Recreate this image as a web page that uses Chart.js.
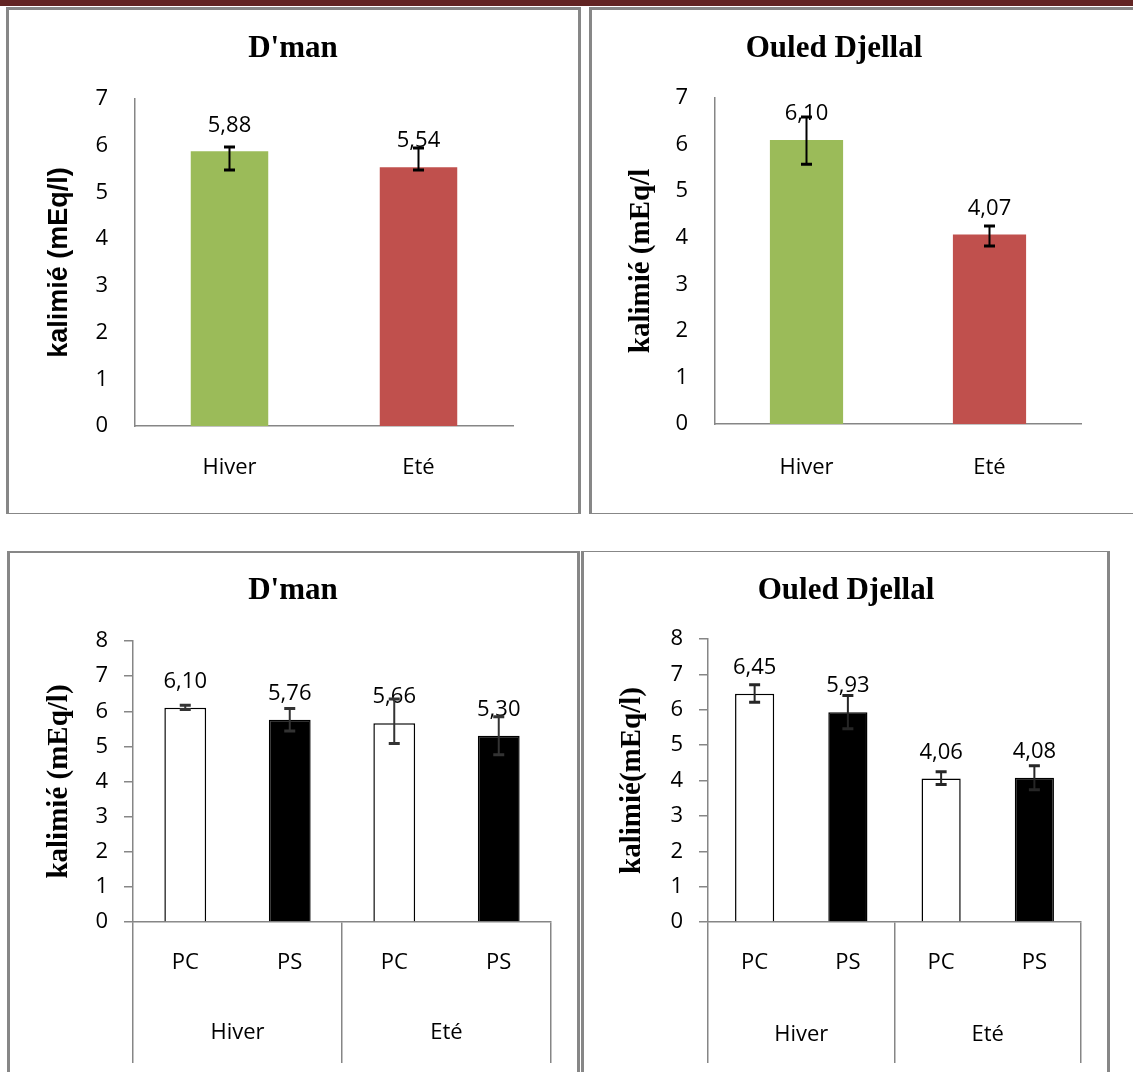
<!DOCTYPE html>
<html>
<head>
<meta charset="utf-8">
<title>Kalimié</title>
<script src="https://cdn.jsdelivr.net/npm/chart.js@4.4.1/dist/chart.umd.min.js"></script>
<style>
  body { margin: 0; width: 1133px; height: 1072px; overflow: hidden; background: #fff; position: relative; }
  .topline { position: absolute; left: 0; top: 0; width: 1133px; height: 6px; background: #622423; }
  .panel { position: absolute; box-sizing: border-box; border: 3px solid #878787; }
  canvas { position: absolute; }
</style>
</head>
<body>
<div class="topline"></div>
<div class="panel" style="left:6px;top:7px;width:575px;height:507px;border-bottom-width:1px"></div>
<div class="panel" style="left:589px;top:7px;width:600px;height:507px;border-bottom-width:1px"></div>
<div class="panel" style="left:7px;top:551px;width:573px;height:600px;border-top-width:2px"></div>
<div class="panel" style="left:581px;top:551px;width:529px;height:600px;border-top-width:1px"></div>

<canvas id="c1" width="566" height="500" style="left:10px;top:10px"></canvas>
<canvas id="c2" width="496" height="500" style="left:586px;top:10px"></canvas>
<canvas id="c3" width="566" height="509" style="left:10px;top:554px"></canvas>
<canvas id="c4" width="522" height="509" style="left:585px;top:554px"></canvas>

<script>
// categories
const seasons = ['Hiver', 'Eté'];
const groupLabels = ['PC', 'PS', 'PC', 'PS'];

// D'man, by season
const dmanSeason = [5.88, 5.54];
const dmanSeasonErrUp = [0.09, 0.41];
const dmanSeasonErrDown = [0.40, 0.06];

// Ouled Djellal, by season
const ouledSeason = [6.10, 4.07];
const ouledSeasonErrUp = [0.49, 0.18];
const ouledSeasonErrDown = [0.52, 0.25];

// D'man, PC / PS per season
const dmanGroup = [6.10, 5.76, 5.66, 5.30];
const dmanGroupErrUp = [0.07, 0.32, 0.69, 0.54];
const dmanGroupErrDown = [0.05, 0.32, 0.58, 0.54];

// Ouled Djellal, PC / PS per season
const ouledGroup = [6.45, 5.93, 4.06, 4.08];
const ouledGroupErrUp = [0.26, 0.47, 0.19, 0.34];
const ouledGroupErrDown = [0.24, 0.47, 0.17, 0.34];

const TICK_FONT = { family: '"Open Sans", sans-serif', size: 22, lineHeight: 1.2 };
const TITLE_FONT = { family: '"Liberation Serif", serif', size: 31, weight: 'bold', lineHeight: 1 };
const AXIS_GREY = '#868686';

// value labels + error bars on top of the bars
const barExtras = {
  id: 'barExtras',
  afterDatasetsDraw(chart, args, opts) {
    const ctx = chart.ctx;
    const yScale = chart.scales.y;
    const values = chart.data.datasets[0].data;
    const bars = chart.getDatasetMeta(0).data;
    ctx.save();
    ctx.font = '22px "Open Sans"';
    ctx.fillStyle = '#000';
    ctx.textAlign = 'center';
    ctx.textBaseline = 'middle';
    bars.forEach((bar, i) => {
      ctx.fillText(values[i].toFixed(2).replace('.', ','), bar.x, bar.y - 26);
    });
    ctx.strokeStyle = opts.color;
    bars.forEach((bar, i) => {
      const v = values[i];
      const yHi = yScale.getPixelForValue(v + opts.up[i]);
      const yLo = yScale.getPixelForValue(v - opts.down[i]);
      ctx.lineWidth = 2;
      ctx.beginPath();
      ctx.moveTo(bar.x, yHi);
      ctx.lineTo(bar.x, yLo);
      ctx.stroke();
      ctx.lineWidth = 3;
      ctx.beginPath();
      ctx.moveTo(bar.x - 5.5, yHi); ctx.lineTo(bar.x + 5.5, yHi);
      ctx.moveTo(bar.x - 5.5, yLo); ctx.lineTo(bar.x + 5.5, yLo);
      ctx.stroke();
    });
    ctx.restore();
  }
};

function buildChart(id, g, d) {
  const yW = g.areaL - g.left;
  const rW = g.left + g.width - g.areaR;
  const lh = TICK_FONT.size * TICK_FONT.lineHeight;
  const twoLevel = !!d.groups;
  const xH = twoLevel ? 75 : g.top + g.height - g.areaB;
  const x2H = g.top + g.height - g.areaB - xH;

  const scales = {
    y: {
      position: 'left',
      min: 0,
      max: d.yMax,
      ticks: { stepSize: 1, color: '#000', font: TICK_FONT, padding: twoLevel ? 16 : 27 },
      grid: twoLevel
        ? { display: true, drawOnChartArea: false, drawTicks: true, tickLength: 9, color: AXIS_GREY, lineWidth: 1.5 }
        : { display: false, drawTicks: false },
      border: { display: true, color: AXIS_GREY, width: 1.5 },
      title: {
        display: true,
        text: d.yTitle,
        color: '#000',
        font: d.yTitleFont,
        padding: { top: g.yTitleX - g.left - d.yTitleFont.size / 2, bottom: 0 }
      },
      afterFit(s) { s.width = yW; }
    },
    yr: {
      type: 'linear',
      position: 'right',
      display: true,
      ticks: { display: false },
      grid: { display: false, drawTicks: false },
      border: { display: false },
      afterFit(s) { s.width = rW; }
    },
    x: {
      weight: 0,
      offset: true,
      ticks: {
        color: '#000',
        font: TICK_FONT,
        autoSkip: false,
        maxRotation: 0,
        padding: g.xLabelY - g.areaB - (twoLevel ? xH : 0) - lh / 2
      },
      // only the group boundaries (first, middle, last edge) get a divider
      grid: twoLevel
        ? {
            display: true, drawOnChartArea: false, drawTicks: true, offset: true,
            tickLength: xH, lineWidth: 1.5,
            color: c => (c.type !== 'tick' || c.index % 2 === 0 ? AXIS_GREY : 'rgba(0,0,0,0)')
          }
        : { display: false, drawTicks: false },
      border: { display: true, color: AXIS_GREY, width: 1.5 },
      afterFit(s) { s.height = xH; }
    }
  };

  if (twoLevel) {
    scales.x2 = {
      type: 'category',
      position: 'bottom',
      weight: 1,
      labels: d.groups,
      offset: true,
      ticks: {
        color: '#000',
        font: TICK_FONT,
        autoSkip: false,
        maxRotation: 0,
        padding: g.groupLabelY - (g.areaB + xH) - x2H - lh / 2
      },
      grid: {
        display: true, drawOnChartArea: false, drawTicks: true, offset: true,
        tickLength: x2H, lineWidth: 1.5, color: AXIS_GREY
      },
      border: { display: false },
      afterFit(s) { s.height = x2H; }
    };
  }

  const titlePadTop = g.titleY - g.top - TITLE_FONT.size / 2;
  const titlePadBottom = g.areaT - g.titleY - TITLE_FONT.size / 2;

  new Chart(document.getElementById(id), {
    type: 'bar',
    data: {
      labels: d.labels,
      datasets: [{
        data: d.values,
        xAxisID: 'x',
        yAxisID: 'y',
        backgroundColor: d.colors,
        borderColor: '#000',
        borderWidth: d.borderWidth,
        barPercentage: d.barPct,
        categoryPercentage: 1
      }]
    },
    options: {
      responsive: false,
      animation: false,
      layout: { padding: 0 },
      scales: scales,
      plugins: {
        legend: { display: false },
        tooltip: { enabled: false },
        title: {
          display: true,
          text: d.title,
          color: '#000',
          font: TITLE_FONT,
          padding: { top: titlePadTop, bottom: titlePadBottom }
        },
        barExtras: { up: d.errUp, down: d.errDown, color: d.errColor }
      }
    },
    plugins: [barExtras]
  });
}

buildChart('c1',
  { left: 10, top: 10, width: 566, height: 500, areaL: 135, areaR: 513, areaT: 99, areaB: 426,
    titleY: 49, yTitleX: 60, xLabelY: 468 },
  { labels: seasons, values: dmanSeason, errUp: dmanSeasonErrUp, errDown: dmanSeasonErrDown,
    title: "D'man", yTitle: 'kalimié (mEq/l)', yMax: 7,
    yTitleFont: { family: '"Liberation Sans", sans-serif', size: 27, weight: 'bold', lineHeight: 1 },
    colors: ['#9BBB59', '#C0504D'], borderWidth: 0, barPct: 0.41, errColor: '#000' });

buildChart('c2',
  { left: 586, top: 10, width: 496, height: 500, areaL: 715, areaR: 1081, areaT: 98, areaB: 424,
    titleY: 49, yTitleX: 642, xLabelY: 468 },
  { labels: seasons, values: ouledSeason, errUp: ouledSeasonErrUp, errDown: ouledSeasonErrDown,
    title: 'Ouled Djellal', yTitle: 'kalimié (mEq/l', yMax: 7,
    yTitleFont: { family: '"Liberation Serif", serif', size: 29, weight: 'bold', lineHeight: 1 },
    colors: ['#9BBB59', '#C0504D'], borderWidth: 0, barPct: 0.40, errColor: '#000' });

buildChart('c3',
  { left: 10, top: 554, width: 566, height: 509, areaL: 133, areaR: 551, areaT: 641, areaB: 922,
    titleY: 591, yTitleX: 60, xLabelY: 963, groupLabelY: 1033 },
  { labels: groupLabels, groups: seasons, values: dmanGroup, errUp: dmanGroupErrUp, errDown: dmanGroupErrDown,
    title: "D'man", yTitle: 'kalimié (mEq/l)', yMax: 8,
    yTitleFont: { family: '"Liberation Serif", serif', size: 29, weight: 'bold', lineHeight: 1 },
    colors: ['#ffffff', '#000000', '#ffffff', '#000000'], borderWidth: 1.5, barPct: 0.40, errColor: '#333' });

buildChart('c4',
  { left: 585, top: 554, width: 522, height: 509, areaL: 708, areaR: 1081, areaT: 639, areaB: 922,
    titleY: 591, yTitleX: 633, xLabelY: 963, groupLabelY: 1035 },
  { labels: groupLabels, groups: seasons, values: ouledGroup, errUp: ouledGroupErrUp, errDown: ouledGroupErrDown,
    title: 'Ouled Djellal', yTitle: 'kalimié(mEq/l)', yMax: 8,
    yTitleFont: { family: '"Liberation Serif", serif', size: 29, weight: 'bold', lineHeight: 1 },
    colors: ['#ffffff', '#000000', '#ffffff', '#000000'], borderWidth: 1.5, barPct: 0.42, errColor: '#262626' });
</script>
</body>
</html>
